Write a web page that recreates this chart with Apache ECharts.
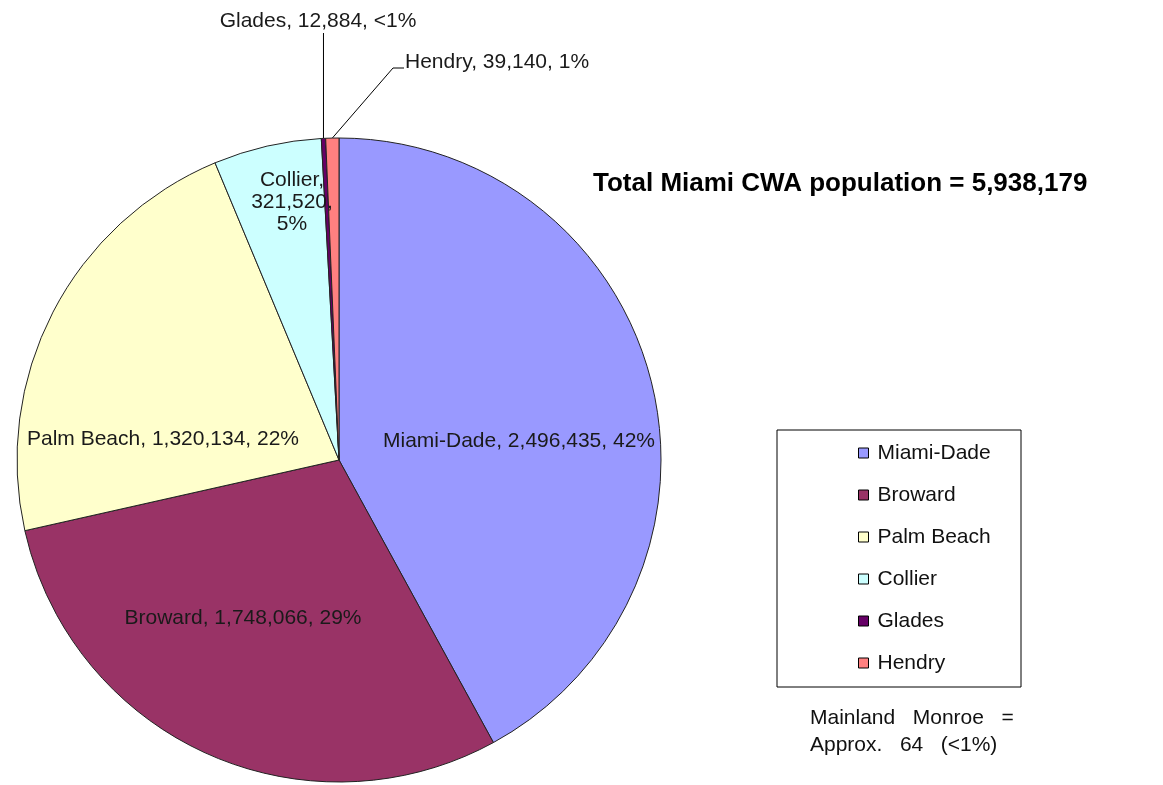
<!DOCTYPE html>
<html>
<head>
<meta charset="utf-8">
<script src="https://cdn.jsdelivr.net/npm/echarts@6/dist/echarts.min.js"></script>
<style>
  html, body { margin: 0; padding: 0; background: #fff; }
  #chart { width: 1163px; height: 785px; }
</style>
</head>
<body>
<div id="chart"></div>
<script>
const counties = ["Miami-Dade", "Broward", "Palm Beach", "Collier", "Glades", "Hendry"];
const population = [2496435, 1748066, 1320134, 321520, 12884, 39140];
const percentLabels = ["42%", "29%", "22%", "5%", "<1%", "1%"];
const colors = ["#9999ff", "#993366", "#ffffcc", "#ccffff", "#660066", "#ff8080"];
const totalText = "Total Miami CWA population = 5,938,179";
const noteLines = ["Mainland   Monroe   =", "Approx.   64   (<1%)"];

const fmt = (v) => v.toLocaleString("en-US");

// where each label sits (layout only)
const labelPos = [
  { x: 519, y: 441, align: "center" },
  { x: 243, y: 618, align: "center" },
  { x: 163, y: 439, align: "center" },
  { x: 292, y: 202, align: "center" },
  { x: 318, y: 21, align: "center" },
  { x: 405, y: 62, align: "left" },
];

const chart = echarts.init(document.getElementById("chart"));

const option = {
  animation: false,
  color: colors,
  textStyle: { fontFamily: "Liberation Sans, Arial, sans-serif" },
  legend: {
    orient: "vertical",
    left: 853,
    top: 437,
    itemWidth: 10,
    itemHeight: 10,
    itemGap: 20,
    icon: "rect",
    itemStyle: { borderColor: "#000", borderWidth: 1 },
    textStyle: { fontSize: 21, color: "#111", lineHeight: 22, padding: [0, 0, 0, 4] },
    data: counties,
  },
  graphic: [
    {
      type: "rect",
      shape: { x: 777, y: 430, width: 244, height: 257 },
      style: { fill: "none", stroke: "#000", lineWidth: 1 },
    },
    {
      type: "text",
      left: 593,
      top: 171,
      style: { text: totalText, font: "bold 26px Liberation Sans, Arial, sans-serif", fill: "#000" },
    },
    {
      type: "text",
      left: 810,
      top: 705,
      style: {
        text: noteLines.join("\n"),
        font: "21px Liberation Sans, Arial, sans-serif",
        lineHeight: 27,
        fill: "#111",
      },
    },
  ],
  series: [
    {
      type: "pie",
      center: [339, 460],
      radius: 322,
      startAngle: 90,
      clockwise: true,
      avoidLabelOverlap: false,
      itemStyle: { borderColor: "#222", borderWidth: 1 },
      emphasis: { disabled: true },
      label: {
        show: true,
        position: "inside",
        fontSize: 21,
        color: "#1a1a1a",
        lineHeight: 22,
        formatter: (p) =>
          p.dataIndex === 3
            ? p.name + ",\n" + fmt(p.value) + ",\n" + percentLabels[p.dataIndex]
            : p.name + ", " + fmt(p.value) + ", " + percentLabels[p.dataIndex],
      },
      labelLine: { show: false },
      // leader lines for the two small slices start at the slice edge the library computed
      labelLayout: (params) => {
        const pos = labelPos[params.dataIndex];
        const out = { x: pos.x, y: pos.y, align: pos.align, verticalAlign: "middle" };
        const pts = params.labelLinePoints;
        if (pts && params.dataIndex === 4) {
          out.labelLinePoints = [pts[0], [pts[0][0], 33], [pts[0][0], 33]];
        } else if (pts && params.dataIndex === 5) {
          out.labelLinePoints = [pts[0], [393, 68], [404, 68]];
        }
        return out;
      },
      data: counties.map((name, i) => {
        const item = { name: name, value: population[i] };
        if (i === 4 || i === 5) {
          item.label = { position: "outside" };
          item.labelLine = { show: true, length: 20, length2: 10, lineStyle: { color: "#000", width: 1 } };
        }
        return item;
      }),
    },
  ],
};

chart.setOption(option);
</script>
</body>
</html>
